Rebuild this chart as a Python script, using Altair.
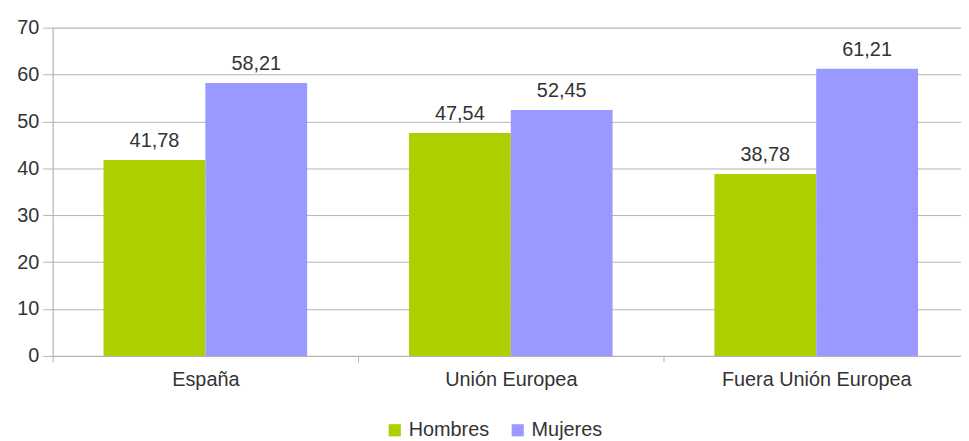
import altair as alt
import pandas as pd

categories = ["España", "Unión Europea", "Fuera Unión Europea"]
series = ["Hombres", "Mujeres"]
hombres = [41.78, 47.54, 38.78]
mujeres = [58.21, 52.45, 61.21]
colors = ["#aecf00", "#9999ff"]
y_ticks = [0, 10, 20, 30, 40, 50, 60, 70]

rows = []
for i, c in enumerate(categories):
    for s, vals in zip(series, [hombres, mujeres]):
        v = vals[i]
        rows.append({"cat": c, "serie": s, "valor": v,
                     "etiqueta": f"{v:.2f}".replace(".", ",")})
df = pd.DataFrame(rows)

FONT = "Liberation Sans"
GRID = "#b3b3b3"
TXT = "#333333"

x = alt.X("cat:N", sort=categories, title=None,
          scale=alt.Scale(domain=categories, paddingInner=0, paddingOuter=0, range=[0, 924]),
          axis=alt.Axis(labelAngle=0, tickBand="extent", tickSize=6, tickColor=GRID,
                        domainColor=GRID, labelFontSize=20, labelColor=TXT,
                        labelFont=FONT, labelPadding=8, labelLimit=0, grid=False))
xo = alt.XOffset("serie:N", sort=series,
                 scale=alt.Scale(domain=series, paddingInner=0, paddingOuter=0.5))
y = alt.Y("valor:Q", title=None,
          scale=alt.Scale(domain=[0, 70], nice=False),
          axis=alt.Axis(values=y_ticks, grid=True, gridColor=GRID, domainColor=GRID,
                        tickColor=GRID, tickSize=10, labelFontSize=20, labelColor=TXT,
                        labelFont=FONT, labelPadding=4))

bars = alt.Chart(df).mark_bar().encode(
    x=x, xOffset=xo, y=y,
    color=alt.Color("serie:N", sort=series, title=None,
                    scale=alt.Scale(domain=series, range=colors),
                    legend=alt.Legend(orient="none", legendX=335, legendY=396,
                                      direction="horizontal", symbolType="square",
                                      symbolSize=150, symbolStrokeWidth=0,
                                      labelFontSize=20, labelFont=FONT, labelColor=TXT,
                                      labelOffset=4, columnPadding=18)),
)

labels = alt.Chart(df).mark_text(baseline="alphabetic", dy=-13, fontSize=20,
                                 font=FONT, color=TXT).encode(
    x=x, xOffset=xo, y=y, text="etiqueta:N")

chart = (bars + labels).properties(
    width=916, height=331,
    autosize=alt.AutoSizeParams(type="none"),
    padding={"left": 45, "top": 18, "right": 0, "bottom": 84},
).configure_view(stroke=None).configure(font=FONT)

chart.save("out.html", embed_options={"renderer": "svg", "actions": False})
